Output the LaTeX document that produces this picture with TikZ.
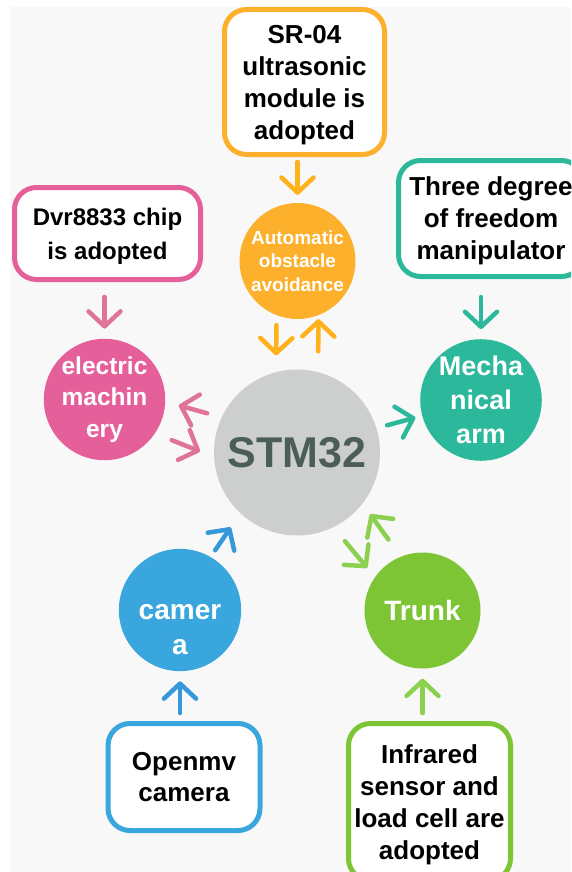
\documentclass[tikz,border=0pt]{standalone}
\usepackage{fontspec}
\setmainfont{Liberation Sans}
\usetikzlibrary{arrows.meta}

\definecolor{backdrop}{HTML}{F8F8F8}
\definecolor{sonar}{HTML}{FCB02B}
\definecolor{sonarline}{HTML}{FFB11B}
\definecolor{motor}{HTML}{E5609B}
\definecolor{motorline}{HTML}{E0739A}
\definecolor{arm}{HTML}{2BB89B}
\definecolor{chip}{HTML}{CDCFCE}
\definecolor{chiptext}{HTML}{4B5D58}
\definecolor{cam}{HTML}{39A6DE}
\definecolor{camline}{HTML}{3598DB}
\definecolor{trunk}{HTML}{7EC535}
\definecolor{trunkline}{HTML}{8CD050}

\begin{document}
\begin{tikzpicture}[x=1pt, y=-1pt,
    box/.style={draw, line width=5pt, fill=white, rounded corners=22pt, align=center,
        inner sep=0pt, text depth=0pt, font=\bfseries\fontsize{26pt}{32pt}\selectfont},
    ball/.style={circle, minimum size=116pt, inner sep=0pt, align=center, text=white},
    link/.style={line width=4.5pt, line cap=round,
        -{Straight Barb[length=15pt,width=32pt,round]}}]
        \useasboundingbox (0,0) rectangle (571,872);
        \clip (0,0) rectangle (571,872);
        \fill[white] (0,0) rectangle (571,872);
        \fill[backdrop] (10,7) rectangle (571,872);

        % Define modules
        \node[box, draw=sonar, minimum width=160pt, minimum height=145pt] (SR) at (304.5,82) {SR-04\\ultrasonic\\module is\\adopted};
        \node[box, draw=motor, minimum width=186pt, minimum height=92pt, font=\bfseries\fontsize{24pt}{34pt}\selectfont] (Dvr) at (107.5,233.5) {Dvr8833 chip\\is adopted};
        \node[box, draw=arm, minimum width=185pt, minimum height=116pt] (Three) at (491,218.5) {Three degree\\of freedom\\manipulator};
        \node[box, draw=cam, minimum width=152pt, minimum height=107pt, font=\bfseries\fontsize{26pt}{31pt}\selectfont] (Openmv) at (184,777) {Openmv\\camera};
        \node[box, draw=trunk, minimum width=162pt, minimum height=157pt] (Infrared) at (429.5,802) {Infrared\\sensor and\\load cell are\\adopted};

        % Define parts
        \node[ball, fill=sonar, font=\bfseries\fontsize{19pt}{23.5pt}\selectfont] (Auto) at (297.5,261) {Automatic\\obstacle\\avoidance};
        \node[ball, fill=motor, font=\bfseries\fontsize{24.5pt}{31.5pt}\selectfont] (Motor) at (104.5,399.5) {electric\\machin\\ery};
        \node[ball, fill=arm, font=\bfseries\fontsize{27pt}{34pt}\selectfont] (Arm) at (481,400) {Mecha\\nical\\arm};
        \node[circle, fill=chip, minimum size=166pt, text=chiptext, font=\bfseries\fontsize{43pt}{50pt}\selectfont] (STM) at (297,452.5) {STM32};
        \node[ball, fill=cam, font=\bfseries\fontsize{28pt}{35pt}\selectfont] (Cam) at (180,610) {\rule{0pt}{55pt}camer\\a};
        \node[ball, fill=trunk, font=\bfseries\fontsize{28pt}{35pt}\selectfont] (Trunk) at (422.5,610.5) {Trunk};

        % Define links
        \draw[link, sonarline, shorten <=5pt, shorten >=8pt] (Auto |- SR.south) -- (Auto);
        \draw[link, sonarline, shorten <=6pt, shorten >=14pt] ([xshift=-21pt]Auto.south) -- ([xshift=-21pt]STM.north);
        \draw[link, sonarline, shorten <=18pt] ([xshift=21pt]STM.north) -- ([xshift=21pt]Auto.south);
        \draw[link, motorline, shorten <=15pt, shorten >=10pt] (Motor |- Dvr.south) -- (Motor);
        \draw[link, motorline, shorten <=15pt, shorten >=14pt] (STM.155) -- (Motor.-2);
        \draw[link, motorline, shorten <=18pt, shorten >=15pt] (Motor.-34) -- (STM.183);
        \draw[link, arm, shorten <=18pt, shorten >=10pt] (Arm |- Three.south) -- (Arm);
        \draw[link, arm, shorten <=11pt, shorten >=7pt] (STM.17) -- (Arm.195);
        \draw[link, camline, shorten <=8pt, shorten >=10pt] (Cam |- Openmv.north) -- (Cam);
        \draw[link, camline, shorten <=8pt, shorten >=17pt] (Cam.60) -- (STM.227);
        \draw[link, trunkline, shorten <=8pt, shorten >=10pt] (Trunk |- Infrared.north) -- (Trunk);
        \draw[link, trunkline, shorten <=21pt, shorten >=13pt] (Trunk.112) -- (STM.-38);
        \draw[link, trunkline, shorten <=18pt, shorten >=12pt] (STM.-64) -- (Trunk.145);
\end{tikzpicture}
\end{document}
